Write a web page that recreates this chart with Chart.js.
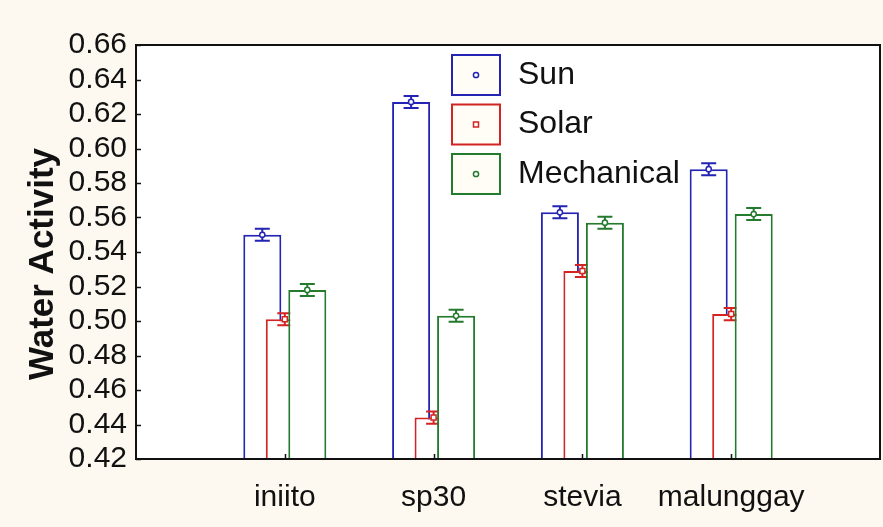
<!DOCTYPE html>
<html>
<head>
<meta charset="utf-8">
<script src="https://cdn.jsdelivr.net/npm/chart.js@4/dist/chart.umd.min.js"></script>
<style>
  html, body { margin: 0; padding: 0; background: #fdf9f0; }
  canvas { display: block; }
</style>
</head>
<body>
<canvas id="chart" width="883" height="527"></canvas>
<script>
// Water activity by sweetener and drying method (means with error bars)
const categories = ['iniito', 'sp30', 'stevia', 'malunggay'];
const seriesNames = ['Sun', 'Solar', 'Mechanical'];
const sunValues = [0.550, 0.627, 0.563, 0.588];
const solarValues = [0.501, 0.444, 0.529, 0.504];
const mechanicalValues = [0.518, 0.503, 0.557, 0.562];
const sunErrors = [0.0035, 0.0035, 0.0035, 0.0035];
const solarErrors = [0.0035, 0.0035, 0.0035, 0.0035];
const mechanicalErrors = [0.0035, 0.0035, 0.0035, 0.0035];
const yTickValues = [0.42, 0.44, 0.46, 0.48, 0.50, 0.52, 0.54, 0.56, 0.58, 0.60, 0.62, 0.64, 0.66];

const FONT = "'Liberation Sans', Arial, sans-serif";
const colors = ['#2323b4', '#d32323', '#247a2d'];
const markers = ['circle', 'square', 'circle'];

function points(values) {
  return values.map((v, i) => ({ x: i + 1, y: v }));
}

function drawMarker(ctx, kind, x, y, color) {
  ctx.save();
  ctx.strokeStyle = color;
  ctx.fillStyle = '#ffffff';
  ctx.lineWidth = 1.5;
  ctx.beginPath();
  if (kind === 'square') {
    ctx.rect(x - 2.5, y - 2.5, 5, 5);
  } else {
    ctx.arc(x, y, 2.6, 0, Math.PI * 2);
  }
  ctx.fill();
  ctx.stroke();
  ctx.restore();
}

// Bars are drawn in dataset order so each later series sits on top of the previous one,
// each followed by its own error bars.
const layeredBars = {
  id: 'layeredBars',
  beforeDraw(chart) {
    const { ctx, chartArea: a } = chart;
    ctx.save();
    ctx.fillStyle = '#ffffff';
    ctx.fillRect(a.left, a.top, a.width, a.height);
    ctx.restore();
  },
  beforeDatasetsDraw(chart) {
    const { ctx, chartArea: a } = chart;
    const yScale = chart.scales.y;
    chart.data.datasets.forEach((ds, i) => {
      const meta = chart.getDatasetMeta(i);
      ctx.save();
      ctx.beginPath();
      ctx.rect(a.left, a.top, a.width, a.height);
      ctx.clip();
      meta.controller.draw();
      ctx.strokeStyle = ds.borderColor;
      ctx.lineWidth = 2;
      meta.data.forEach((bar, j) => {
        const v = ds.data[j].y;
        const e = ds.errors[j];
        const x = bar.x;
        const yTop = yScale.getPixelForValue(v + e);
        const yBot = yScale.getPixelForValue(v - e);
        const hw = 7.5;
        ctx.beginPath();
        ctx.moveTo(x, yTop); ctx.lineTo(x, yBot);
        ctx.moveTo(x - hw, yTop); ctx.lineTo(x + hw, yTop);
        ctx.moveTo(x - hw, yBot); ctx.lineTo(x + hw, yBot);
        ctx.stroke();
        drawMarker(ctx, ds.marker, x, yScale.getPixelForValue(v), ds.borderColor);
      });
      ctx.restore();
    });
    return false;
  },
  afterDraw(chart) {
    const { ctx, chartArea: a } = chart;
    const xScale = chart.scales.x;
    const yScale = chart.scales.y;
    ctx.save();
    // frame
    ctx.strokeStyle = '#111111';
    ctx.lineWidth = 2;
    ctx.strokeRect(a.left, a.top, a.width, a.height);
    // inward tick marks
    ctx.lineWidth = 1.5;
    ctx.beginPath();
    yTickValues.forEach(v => {
      const y = Math.round(yScale.getPixelForValue(v)) + 0.5;
      ctx.moveTo(a.left, y); ctx.lineTo(a.left + 5, y);
    });
    categories.forEach((c, i) => {
      const x = Math.round(xScale.getPixelForValue(i + 1)) + 0.5;
      ctx.moveTo(x, a.bottom); ctx.lineTo(x, a.bottom - 5);
    });
    ctx.stroke();

    // y-axis title
    ctx.fillStyle = '#111111';
    ctx.font = 'bold 35px ' + FONT;
    ctx.textAlign = 'center';
    ctx.textBaseline = 'middle';
    ctx.translate(43, (a.top + a.bottom) / 2 + 12);
    ctx.rotate(-Math.PI / 2);
    ctx.fillText('Water Activity', 0, 0);
    ctx.restore();

    // legend: outlined swatch with the series marker, then the name
    ctx.save();
    const lx = a.left + 316, ly = a.top + 10, sw = 48, sh = 40, step = 49.5;
    chart.data.datasets.forEach((ds, i) => {
      const top = ly + i * step;
      ctx.fillStyle = '#fffdf5';
      ctx.fillRect(lx, top, sw, sh);
      ctx.strokeStyle = ds.borderColor;
      ctx.lineWidth = 2;
      ctx.strokeRect(lx, top, sw, sh);
      drawMarker(ctx, ds.marker, lx + sw / 2, top + sh / 2, ds.borderColor);
      ctx.fillStyle = '#111111';
      ctx.font = '32px ' + FONT;
      ctx.textAlign = 'left';
      ctx.textBaseline = 'middle';
      ctx.fillText(ds.label, lx + 66, top + sh / 2);
    });
    ctx.restore();
  }
};

const seriesValues = [sunValues, solarValues, mechanicalValues];
const seriesErrors = [sunErrors, solarErrors, mechanicalErrors];

new Chart(document.getElementById('chart'), {
  type: 'bar',
  data: {
    datasets: seriesNames.map((name, i) => ({
      label: name,
      data: points(seriesValues[i]),
      errors: seriesErrors[i],
      marker: markers[i],
      borderColor: colors[i],
      backgroundColor: '#ffffff',
      borderWidth: 2,
      borderSkipped: 'start',
      categoryPercentage: 0.4536,
      barPercentage: 1.69
    }))
  },
  options: {
    responsive: false,
    animation: false,
    devicePixelRatio: 1,
    layout: { padding: { top: 45, right: 3, left: 0, bottom: 0 } },
    plugins: {
      legend: { display: false },
      tooltip: { enabled: false }
    },
    scales: {
      x: {
        type: 'linear',
        min: 0,
        max: 5,
        offset: false,
        afterBuildTicks: s => { s.ticks = categories.map((c, i) => ({ value: i + 1 })); },
        afterFit: s => { s.height = 68; },
        grid: { display: false, drawTicks: false },
        border: { display: false },
        ticks: {
          autoSkip: false,
          maxRotation: 0,
          padding: 21,
          color: '#111111',
          font: { family: FONT, size: 30 },
          callback: v => categories[v - 1] || ''
        }
      },
      y: {
        type: 'linear',
        min: 0.42,
        max: 0.66,
        afterBuildTicks: s => { s.ticks = yTickValues.map(v => ({ value: v })); },
        afterFit: s => { s.width = 136; },
        grid: { display: false, drawTicks: false },
        border: { display: false },
        ticks: {
          autoSkip: false,
          padding: 9,
          color: '#111111',
          font: { family: FONT, size: 30 },
          callback: v => Number(v).toFixed(2)
        }
      }
    }
  },
  plugins: [layeredBars]
});
</script>
</body>
</html>
